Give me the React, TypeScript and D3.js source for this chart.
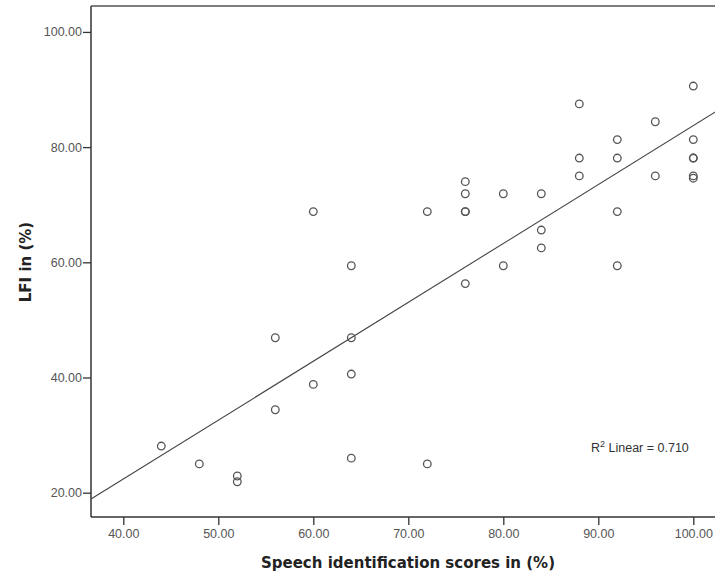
import React, { useEffect, useRef } from "react";
import * as d3 from "d3";

const speechScores = [44, 48, 52, 52, 56, 56, 60, 60, 64, 64, 64, 64, 72, 72, 76, 76, 76, 76, 76, 80, 80, 84, 84, 84, 88, 88, 88, 92, 92, 92, 92, 96, 96, 100, 100, 100, 100, 100, 100];
const lfiScores = [28.1, 25.0, 22.9, 21.9, 46.9, 34.4, 68.8, 38.8, 59.4, 46.9, 40.6, 26.0, 68.8, 25.0, 74.0, 71.9, 68.8, 68.8, 56.3, 71.9, 59.4, 71.9, 65.6, 62.5, 87.5, 78.1, 75.0, 81.3, 78.1, 68.8, 59.4, 84.4, 75.0, 90.6, 81.3, 78.1, 78.1, 75.0, 74.6];
const xTicks = [40, 50, 60, 70, 80, 90, 100];
const yTicks = [20, 40, 60, 80, 100];
const xTitle = "Speech identification scores in (%)";
const yTitle = "LFI in (%)";
const r2Text = "0.710";

export default function App() {
  const ref = useRef<SVGSVGElement>(null);
  useEffect(() => {
    const svg = d3.select(ref.current);
    svg.selectAll("*").remove();
    const x = d3.scaleLinear().domain([36.6, 103]).range([91, 91 + 66.4 * 9.5]);
    const y = d3.scaleLinear().domain([15.78, 104.5]).range([517, 6]);

    // regression
    const n = speechScores.length;
    const mx = d3.mean(speechScores)!;
    const my = d3.mean(lfiScores)!;
    let sxy = 0, sxx = 0;
    for (let i = 0; i < n; i++) {
      sxy += (speechScores[i] - mx) * (lfiScores[i] - my);
      sxx += (speechScores[i] - mx) ** 2;
    }
    const slope = sxy / sxx;
    const intercept = my - slope * mx;

    // frame
    svg.append("line").attr("x1", 91).attr("x2", 720).attr("y1", 6).attr("y2", 6).attr("stroke", "#555").attr("stroke-width", 1.5);
    svg.append("line").attr("x1", 91).attr("x2", 91).attr("y1", 6).attr("y2", 517).attr("stroke", "#333").attr("stroke-width", 1.5);
    svg.append("line").attr("x1", 91).attr("x2", 720).attr("y1", 517).attr("y2", 517).attr("stroke", "#333").attr("stroke-width", 1.5);

    const xa = svg.append("g").attr("transform", "translate(0,517)")
      .call(d3.axisBottom(x).tickValues(xTicks).tickFormat(d3.format(".2f")).tickSize(8).tickPadding(4));
    xa.select(".domain").remove();
    xa.selectAll("line").attr("stroke", "#333").attr("stroke-width", 1.3);
    xa.selectAll("text").attr("font-family", "Liberation Sans, Arial, sans-serif").attr("font-size", 12.5).attr("fill", "#555");

    const ya = svg.append("g").attr("transform", "translate(91,0)")
      .call(d3.axisLeft(y).tickValues(yTicks).tickFormat(d3.format(".2f")).tickSize(8).tickPadding(1));
    ya.select(".domain").remove();
    ya.selectAll("line").attr("stroke", "#333").attr("stroke-width", 1.3);
    ya.selectAll("text").attr("font-family", "Liberation Sans, Arial, sans-serif").attr("font-size", 12.5).attr("fill", "#555");

    // fit line
    const x0 = 36.6, x1 = 103;
    svg.append("line")
      .attr("x1", x(x0)).attr("y1", y(intercept + slope * x0))
      .attr("x2", x(x1)).attr("y2", y(intercept + slope * x1))
      .attr("stroke", "#444").attr("stroke-width", 1.1);

    svg.append("g").selectAll("circle").data(speechScores.map((s, i) => [s, lfiScores[i]]))
      .join("circle")
      .attr("cx", d => x(d[0])).attr("cy", d => y(d[1])).attr("r", 3.8)
      .attr("fill", "none").attr("stroke", "#555").attr("stroke-width", 1.3);

    const t = svg.append("text").attr("x", 591).attr("y", 452)
      .attr("font-family", "Liberation Sans, Arial, sans-serif").attr("font-size", 12.5).attr("fill", "#333");
    t.append("tspan").text("R");
    t.append("tspan").attr("dy", -5).attr("font-size", 9).text("2");
    t.append("tspan").attr("dy", 5).text(" Linear = " + r2Text);

    svg.append("text").attr("x", 408).attr("y", 568).attr("text-anchor", "middle")
      .attr("font-family", "DejaVu Sans, Verdana, sans-serif").attr("font-weight", "bold").attr("font-size", 15).attr("fill", "#222")
      .text(xTitle);
    svg.append("text").attr("transform", "translate(31,262) rotate(-90)").attr("text-anchor", "middle")
      .attr("font-family", "DejaVu Sans, Verdana, sans-serif").attr("font-weight", "bold").attr("font-size", 15).attr("fill", "#222")
      .text(yTitle);
  }, []);
  return (
    <div style={{ position: "absolute", left: 0, top: 0 }}>
      <svg ref={ref} width={715} height={575} style={{ display: "block", background: "#fff" }} />
    </div>
  );
}
